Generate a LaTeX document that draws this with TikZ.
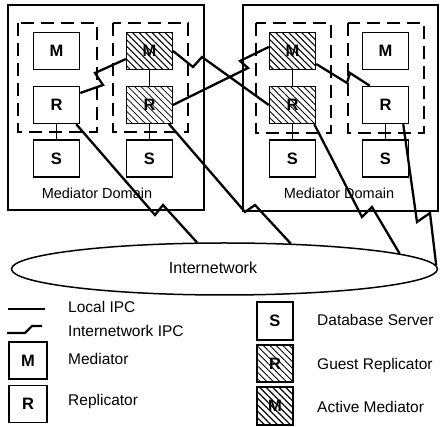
\documentclass[tikz,border=0pt]{standalone}
\usepackage{fontspec}
\setmainfont{Liberation Sans}
\usetikzlibrary{patterns.meta,shapes.geometric,calc}
\begin{document}
\begin{tikzpicture}[x=1pt,y=-1pt,
 box/.style={draw,line width=1.5pt,minimum width=46pt,minimum height=37pt,inner sep=0pt,font=\fontsize{16.5}{16.5}\selectfont\bfseries},
 lbox/.style={box,minimum width=37pt,minimum height=37pt},
 actv/.style={pattern={Lines[angle=-45,distance=4.6pt,line width=1.1pt]}},
 guest/.style={pattern={Lines[angle=-45,distance=4.6pt,line width=0.8pt]}},
 domframe/.style={draw,line width=1.5pt},
 dbox/.style={draw,line width=1.6pt,dash pattern=on 13pt off 7pt},
 lipc/.style={line width=1.4pt},
 iipc/.style={line width=2.3pt,line join=miter},
 lbl/.style={anchor=west,inner sep=0pt,font=\fontsize{15.5}{18}\selectfont},
 domtext/.style={inner sep=0pt,font=\fontsize{14.5}{17}\selectfont},
]
\useasboundingbox (0,0) rectangle (440,427);

% domains
\draw[domframe] (8,5) rectangle (204,210);
\draw[domframe] (243,5) rectangle (438,211);
\draw[dbox] (18,23) rectangle (97,132);
\draw[dbox] (113,23) rectangle (188,132);
\draw[dbox] (256,23) rectangle (331,133);
\draw[dbox] (348,23) rectangle (424,133);

% left domain
\node[box] (ML) at (56.5,51) {M};
\node[box] (RL) at (56.5,105) {R};
\node[box] (SL) at (56.5,158.5) {S};
\node[box,actv] (HML) at (149.5,51) {M};
\node[box,guest] (HRL) at (149.5,105) {R};
\node[box] (SL2) at (149.5,158.5) {S};
% right domain
\node[box,actv] (HMR) at (292.5,51) {M};
\node[box,guest] (HRR) at (292.5,105) {R};
\node[box] (SR1) at (292.5,158.5) {S};
\node[box] (MR) at (385.5,51) {M};
\node[box] (RR) at (385.5,105) {R};
\node[box] (SR2) at (385.5,158.5) {S};

\node[domtext] (d1) at (97,193) {Mediator Domain};
\node[domtext] (d2) at (339,193) {Mediator Domain};

% internetwork
\node[ellipse,draw,line width=1.5pt,minimum width=426pt,minimum height=52pt,inner sep=0pt] (inet) at (224.5,269) {};
\node[inner sep=0pt,font=\fontsize{16}{18}\selectfont] (inettxt) at (213,268) {Internetwork};

% local IPC
\draw[lipc] (RL) -- (SL);
\draw[lipc] (HML) -- (HRL);
\draw[lipc] (HRL) -- (SL2);
\draw[lipc] (HMR) -- (HRR);
\draw[lipc] (HRR) -- (SR1);
\draw[lipc] (RR) -- (SR2);

% internetwork IPC
\draw[iipc] ($(RL.east)+(0,-12)$) -- (103,85) -- (95,73) -- ($(HML.west)+(0,8)$);
\draw[iipc] (HML.east) -- (193,67) -- (202,57) -- (HRR.west);
\draw[iipc] (HRL.east) -- (248,68) -- (240,61) -- ($(HMR.west)+(0,-4)$);
\draw[iipc] ($(HMR.east)+(0,13)$) -- (347,83) -- (350,73) -- ($(RR.north west)+(8,0)$);
\draw[iipc] ($(RL.south east)+(-4,0)$) -- (155,215) -- (163,205) -- (inet.136.8);
\draw[iipc] ($(HRL.south east)+(-4,0)$) -- (245,212) -- (255,205) -- (inet.21.3);
\draw[iipc] ($(HRR.south east)+(-2,0)$) -- (362,217) -- (372,207) -- (inet.5.4);
\draw[iipc] ($(RR.south east)+(-6,0)$) -- (417,222) -- (430,213) -- (inet.1);

% legend
\coordinate (l1) at (8,309);
\coordinate (l2) at (45,309);
\draw[lipc] (l1) -- (l2);
\node[lbl] (t1) at (68,307) {Local IPC};
\draw[iipc] (7,333) -- (25,333) -- (32,326) -- (42,326);
\node[lbl] (t2) at (68,331) {Internetwork IPC};
\node[lbox,minimum width=38pt] (LM) at (28,360.5) {M};
\node[lbl] (t3) at (68,359) {Mediator};
\node[lbox,minimum width=38pt] (LR) at (28,404) {R};
\node[lbl] (t4) at (68,401) {Replicator};
\node[lbox,minimum width=36pt,minimum height=38pt] (LS) at (275,321) {S};
\node[lbl] (t5) at (317,320) {Database Server};
\node[lbox,guest,minimum width=36pt] (LG) at (275,363.5) {R};
\node[lbl] (t6) at (317,365) {Guest Replicator};
\node[lbox,actv,minimum width=36pt,minimum height=38pt] (LA) at (275,406) {M};
\node[lbl] (t7) at (317,407) {Active Mediator};
\end{tikzpicture}
\end{document}
